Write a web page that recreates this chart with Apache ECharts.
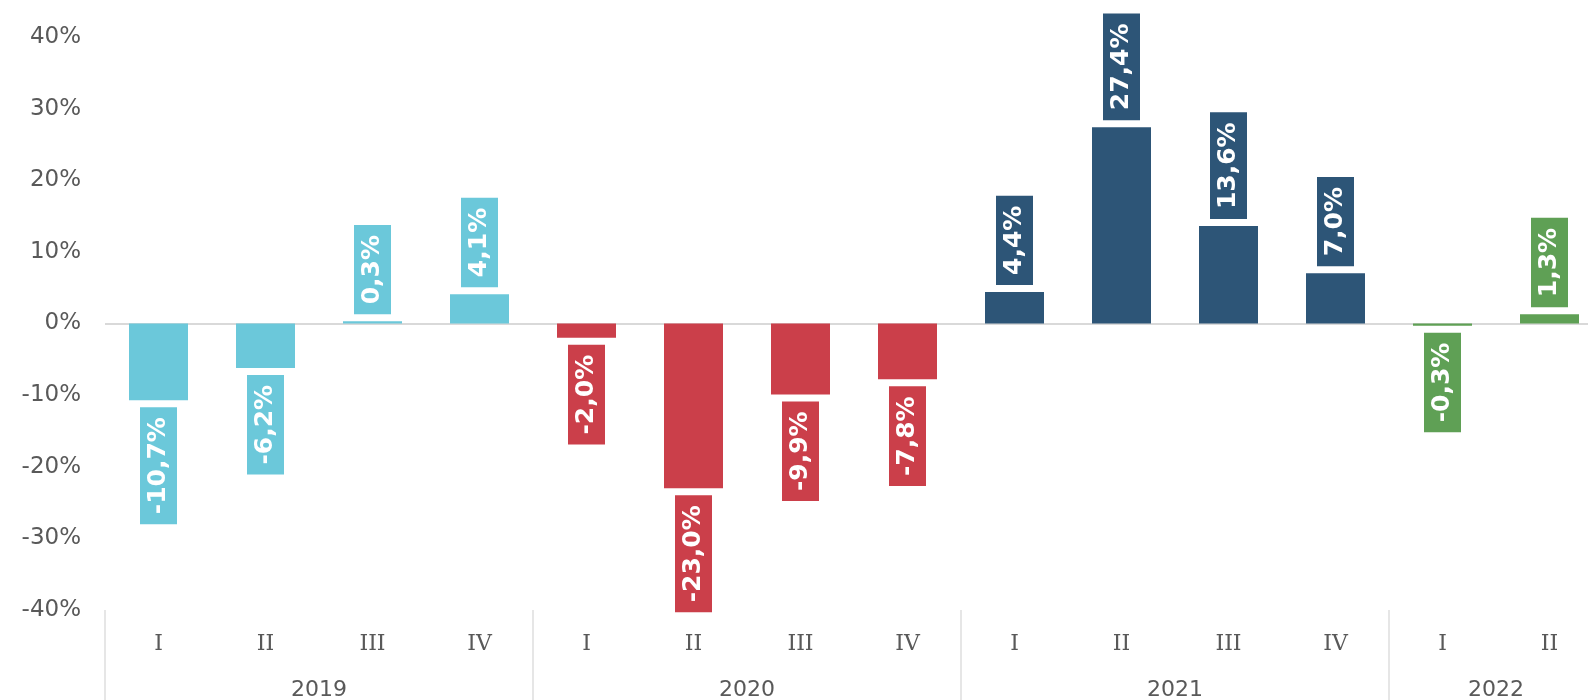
<!DOCTYPE html>
<html>
<head>
<meta charset="utf-8">
<script src="https://cdn.jsdelivr.net/npm/echarts@6/dist/echarts.min.js"></script>
<style>
    html, body { margin: 0; padding: 0; background: #fff; overflow: hidden; }
    /* the plot runs slightly past the right edge of the window, as in the original */
    #chart { width: 1603px; height: 700px; }
</style>
</head>
<body>
<div id="chart"></div>
<script>
    // quarters on the lower axis, years grouped below them
    var quarters = ["I", "II", "III", "IV", "I", "II", "III", "IV", "I", "II", "III", "IV", "I", "II"];
    var values = [-10.7, -6.2, 0.3, 4.1, -2.0, -23.0, -9.9, -7.8, 4.4, 27.4, 13.6, 7.0, -0.3, 1.3];
    var years = ["2019", "2020", "2021", "2022"];
    var yearQuarters = [4, 4, 4, 2];
    var yearColors = ["#6bc8da", "#cb3f4a", "#2d5577", "#5fa055"];
    var yTicks = [-40, -30, -20, -10, 0, 10, 20, 30, 40];

    var chart = echarts.init(document.getElementById("chart"));

    // colour of each bar from its year
    var barYear = [];
    var yearStarts = [];
    var yearMids = [];
    var pos = 0;
    yearQuarters.forEach(function (n, y) {
        yearStarts.push(pos);
        yearMids.push(pos + n / 2);
        for (var k = 0; k < n; k++) barYear.push(y);
        pos += n;
    });

    var barData = values.map(function (v, i) {
        var col = yearColors[barYear[i]];
        return {
            value: v,
            itemStyle: { color: col },
            label: {
                position: v >= 0 ? "top" : "bottom",
                align: v >= 0 ? "left" : "right",
                backgroundColor: col
            }
        };
    });

    var option = {
        animation: false,
        grid: {
            top: 37,
            bottom: 90,
            left: 105,
            right: 0,
            outerBoundsMode: "none"
        },
        xAxis: [
            {
                type: "category",
                data: quarters,
                position: "bottom",
                axisLine: { show: false },
                axisTick: { show: false },
                axisLabel: {
                    margin: 23,
                    color: "#595959",
                    fontSize: 22,
                    fontFamily: "DejaVu Serif"
                }
            },
            {
                type: "value",
                min: 0,
                max: quarters.length,
                position: "bottom",
                splitLine: { show: false },
                axisLine: { show: false },
                axisTick: {
                    show: true,
                    inside: false,
                    length: 91,
                    customValues: yearStarts,
                    lineStyle: { color: "#dedede", width: 1.5 }
                },
                axisLabel: {
                    margin: 69,
                    color: "#595959",
                    fontSize: 22,
                    fontFamily: "DejaVu Sans",
                    customValues: yearMids,
                    formatter: function (val) {
                        var idx = yearMids.indexOf(val);
                        return idx >= 0 ? years[idx] : "";
                    }
                }
            }
        ],
        yAxis: {
            type: "value",
            min: yTicks[0],
            max: yTicks[yTicks.length - 1],
            interval: 10,
            splitLine: { show: false },
            axisLine: { show: false },
            axisTick: { show: false },
            axisLabel: {
                margin: 24,
                color: "#595959",
                fontSize: 23,
                fontFamily: "DejaVu Sans",
                padding: [6, 0, 0, 0],
                verticalAlignMinLabel: "middle",
                verticalAlignMaxLabel: "middle",
                formatter: "{value}%"
            }
        },
        series: [
            {
                type: "bar",
                xAxisIndex: 0,
                barWidth: 59,
                data: barData,
                label: {
                    show: true,
                    rotate: 90,
                    distance: 7,
                    verticalAlign: "middle",
                    color: "#fff",
                    fontWeight: "bold",
                    fontSize: 25,
                    fontFamily: "DejaVu Sans",
                    padding: [6, 10],
                    formatter: function (p) {
                        return p.value.toFixed(1).replace(".", ",") + "%";
                    }
                },
                markLine: {
                    silent: true,
                    symbol: "none",
                    label: { show: false },
                    lineStyle: { color: "#d9d9d9", type: "solid", width: 2 },
                    data: [{ yAxis: 0 }],
                    z: 1
                }
            }
        ]
    };

    chart.setOption(option);
</script>
</body>
</html>
